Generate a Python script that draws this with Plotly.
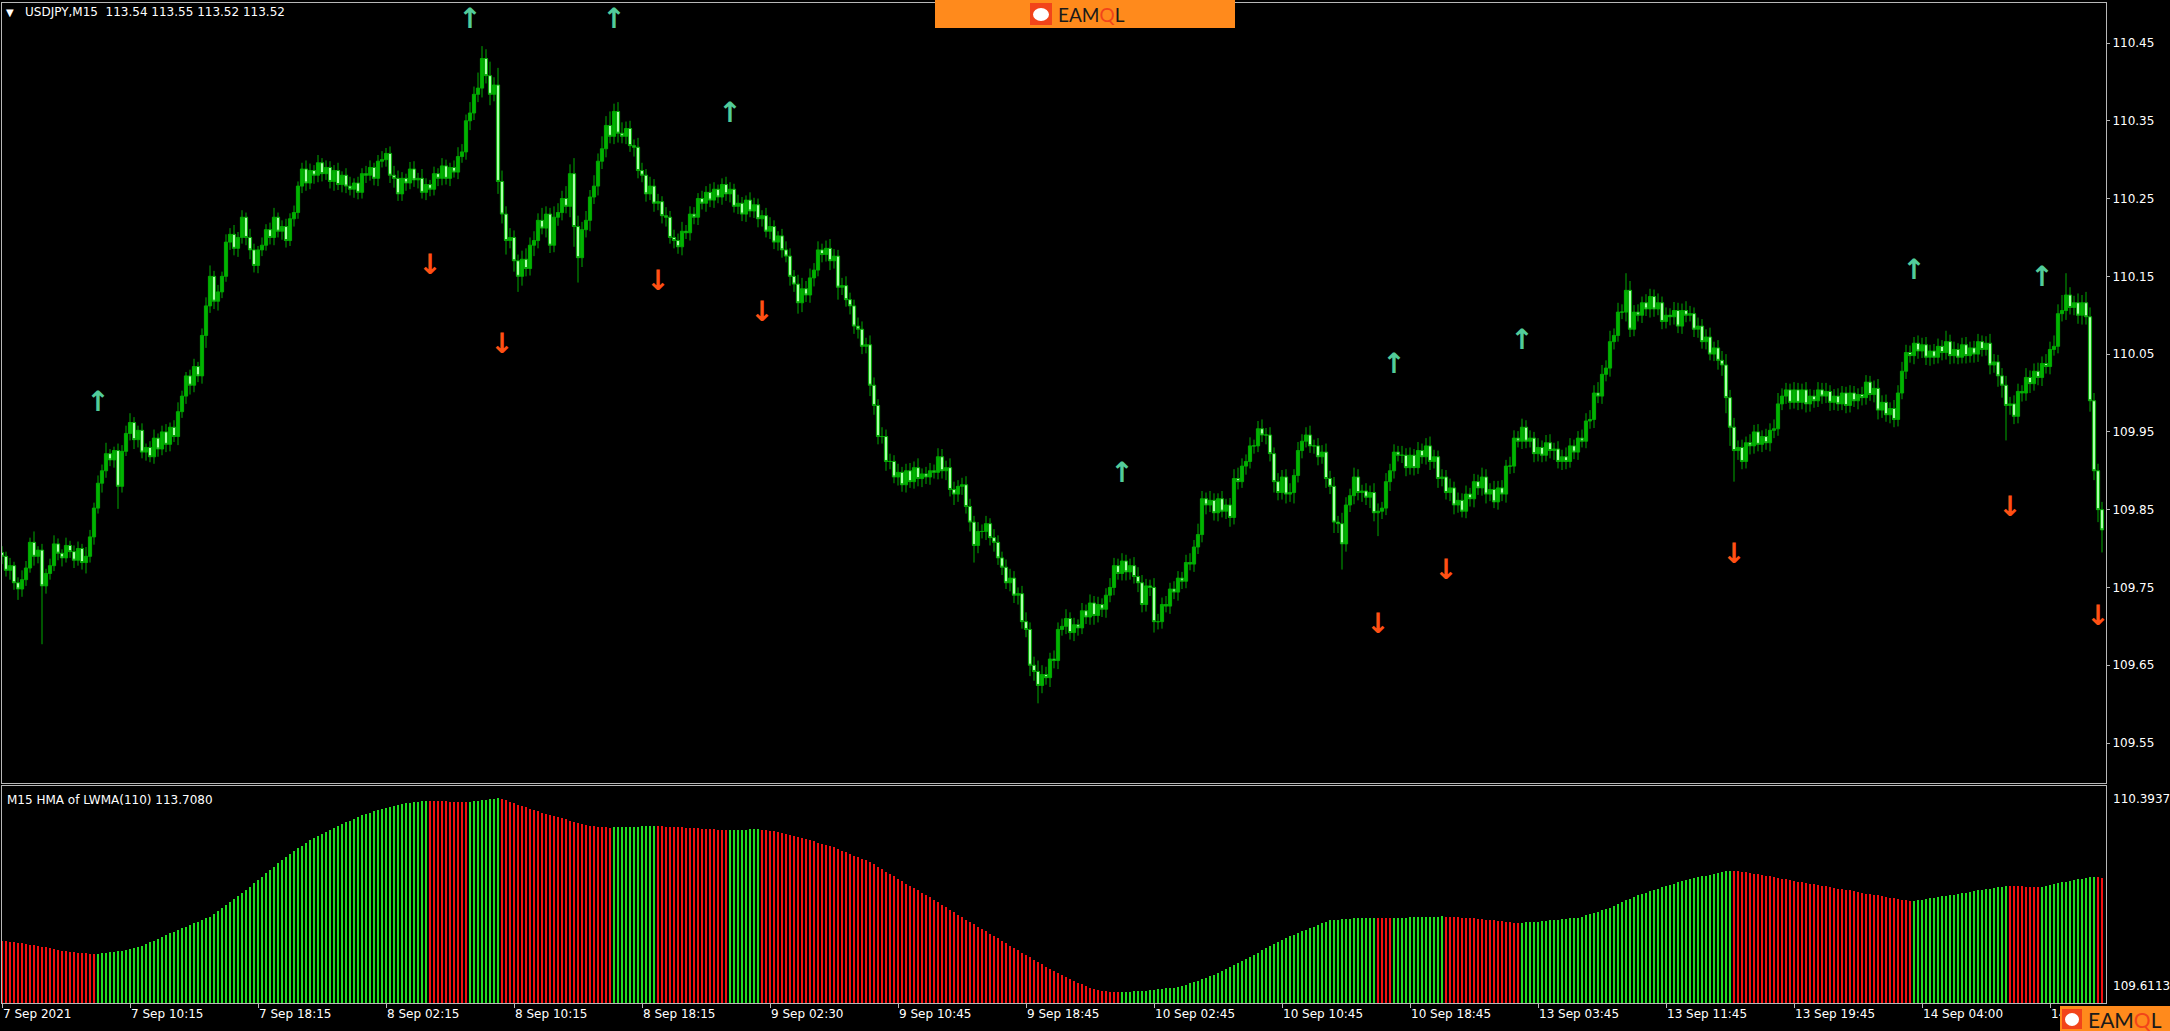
import plotly.graph_objects as go

# ---------------- data (prices in thousandths above 109.000) ----------------
open_first_k = 795
close_k = [
 790,772,778,756,748,760,775,808,790,798,752,768,778,806,794,788,804,796,785,800,
 782,790,815,852,884,900,922,914,926,880,925,948,962,940,952,924,930,918,942,928,
 950,934,956,944,976,996,1022,1010,1034,1022,1074,1112,1150,1118,1130,1150,1194,1204,1186,1200,
 1226,1200,1184,1164,1184,1190,1210,1200,1226,1208,1214,1196,1224,1232,1266,1288,1270,1286,1280,1296,
 1282,1290,1272,1286,1268,1280,1266,1262,1270,1258,1282,1280,1290,1276,1298,1300,1308,1280,1276,1256,
 1276,1270,1288,1274,1276,1258,1268,1262,1282,1276,1292,1276,1290,1284,1304,1310,1350,1360,1384,1392,
 1430,1408,1384,1396,1272,1230,1196,1200,1170,1150,1172,1160,1190,1196,1222,1212,1230,1190,1226,1232,
 1250,1240,1282,1214,1174,1210,1222,1252,1266,1298,1314,1344,1330,1362,1334,1330,1340,1318,1316,1286,
 1280,1256,1266,1244,1246,1228,1226,1200,1196,1188,1208,1206,1230,1226,1250,1244,1258,1248,1262,1252,
 1268,1256,1262,1240,1244,1230,1248,1234,1242,1224,1228,1208,1214,1194,1202,1184,1176,1150,1140,1116,
 1134,1126,1148,1158,1184,1178,1186,1170,1176,1136,1138,1120,1112,1086,1082,1060,1062,1010,984,944,
 944,912,912,892,898,882,900,886,904,890,896,892,900,898,918,900,904,876,870,880,
 882,854,834,804,822,822,832,814,808,788,776,756,762,740,742,706,696,650,642,624,
 638,634,658,656,696,700,710,692,702,698,720,712,730,714,728,722,740,750,778,768,
 784,770,778,764,756,728,752,750,706,706,728,726,748,744,762,758,782,780,802,818,
 864,856,862,846,864,848,856,840,890,886,906,912,932,932,954,946,946,922,886,872,
 892,870,872,894,926,938,946,932,932,918,924,890,880,834,832,806,856,868,892,872,
 874,866,872,846,848,852,886,900,924,920,920,904,920,904,926,918,932,912,918,890,
 892,872,878,856,862,848,870,864,886,878,892,870,876,860,878,870,906,906,942,938,
 956,938,942,922,930,920,936,926,928,912,918,912,932,924,942,938,964,966,1000,996,
 1024,1032,1066,1074,1104,1104,1132,1082,1104,1100,1116,1108,1124,1108,1116,1092,1100,1098,1106,1086,
 1106,1100,1102,1082,1086,1066,1072,1050,1058,1042,1036,994,956,926,930,912,936,932,950,934,
 944,936,952,954,986,996,1004,988,1004,988,1004,986,996,990,1004,996,1002,988,996,986,
 1000,984,1000,990,998,994,1014,998,1006,978,988,972,980,966,1000,1028,1052,1048,1064,1054,
 1062,1046,1054,1046,1060,1052,1066,1048,1056,1046,1062,1048,1058,1050,1066,1056,1064,1036,1040,1022,
 1010,984,986,970,1002,1000,1020,1012,1028,1020,1038,1034,1056,1060,1102,1106,1126,1110,1116,1100,
 1116,1098,990,900,850,824,
]
hi_ext_k = [
 8,6,10,5,7,12,9,6,14,5,8,6,9,11,7,5,10,6,8,9,
 6,12,9,7,10,8,14,6,5,9,8,10,12,7,6,9,5,8,11,6,
 8,10,6,9,12,7,5,8,10,6,9,11,14,7,9,6,10,8,12,7,
 9,6,11,8,5,10,7,9,12,6,8,10,7,9,6,8,11,9,7,10,
 6,9,8,7,10,5,9,12,6,8,7,10,9,6,8,11,7,9,12,10,
 8,6,9,10,7,12,8,6,9,7,10,8,6,9,12,10,8,14,10,20,
 16,12,18,10,22,14,10,12,9,8,11,14,10,12,9,16,10,8,14,12,
 10,16,12,20,14,10,12,9,14,10,16,12,18,10,12,14,9,10,8,12,
 10,8,12,9,10,7,11,8,10,9,12,8,10,9,7,10,8,11,9,6,
 8,10,9,7,11,8,6,10,9,8,7,10,12,8,6,9,11,10,8,12,
 14,10,12,9,11,8,10,12,9,8,10,12,9,8,11,10,9,12,10,8,
 12,9,10,8,11,7,9,10,8,12,7,9,10,8,11,10,9,12,10,8,
 9,11,10,8,12,9,10,7,11,9,8,10,12,9,8,10,12,9,11,14,
 12,10,8,11,9,10,12,8,9,7,10,8,11,9,10,8,9,12,10,9,
 10,8,9,11,12,10,9,8,12,10,9,11,8,10,9,8,10,12,9,14,
 10,8,12,9,7,10,8,9,12,14,10,9,11,8,10,12,9,10,8,11,
 9,10,12,8,11,9,10,12,8,10,9,11,10,12,8,14,10,9,12,10,
 8,10,9,12,10,8,11,9,10,8,12,9,10,8,11,9,10,12,9,8,
 10,9,12,8,10,9,11,8,10,9,12,10,8,11,9,10,8,12,10,9,
 11,9,10,8,12,9,10,11,8,10,9,12,10,8,9,11,10,12,10,14,
 12,10,14,9,12,10,22,12,9,10,8,11,10,9,12,8,10,9,11,10,
 9,12,10,8,11,9,10,12,8,10,12,14,10,12,9,10,8,11,9,10,
 8,10,9,12,14,10,9,8,10,9,8,10,9,8,10,9,11,8,9,10,
 9,8,10,9,8,10,9,8,10,12,9,10,8,11,10,12,10,9,8,10,
 9,10,8,9,10,8,14,9,10,8,9,10,8,9,10,8,9,12,10,9,
 10,12,9,11,10,8,12,9,10,11,9,12,10,14,12,20,28,10,9,12,
 10,14,12,10,9,10,
]
lo_ext_k = [
 10,8,12,9,14,10,8,6,12,9,75,10,8,7,9,11,6,8,10,7,
 9,14,8,10,7,12,9,8,10,29,8,6,9,12,10,8,11,7,9,10,
 8,10,9,7,11,8,10,12,9,8,10,16,9,10,12,8,7,10,9,11,
 8,10,12,9,10,8,7,9,10,8,11,9,7,10,8,9,10,8,11,9,
 10,8,9,12,7,10,9,8,11,9,8,10,7,9,10,8,9,10,12,9,
 9,10,8,9,11,8,10,9,8,10,9,8,10,7,9,8,10,12,9,10,
 12,10,14,9,16,12,18,10,14,20,12,10,9,14,10,8,12,10,9,11,
 10,9,14,26,32,12,10,14,9,12,10,11,9,10,12,9,10,8,12,10,
 9,10,8,11,9,10,12,8,10,9,11,8,10,9,10,8,11,9,10,8,
 10,9,11,8,10,9,10,8,9,11,10,8,10,9,11,10,8,12,10,14,
 12,9,10,11,8,10,9,12,10,16,10,9,11,10,12,10,9,14,12,10,
 9,12,10,8,11,9,10,8,9,10,11,9,10,8,9,10,12,9,14,10,
 11,9,12,22,10,9,11,10,12,9,10,8,11,10,12,9,10,14,12,23,
 10,9,12,10,11,8,10,9,11,10,8,9,10,12,9,10,11,9,10,8,
 9,11,10,9,12,10,9,11,14,10,9,8,10,9,11,10,9,8,10,9,
 10,12,9,10,11,8,10,12,9,10,8,11,9,10,8,9,12,10,14,10,
 9,12,10,14,9,10,8,9,10,11,9,12,10,14,12,33,10,9,11,10,
 12,10,14,11,30,10,9,12,10,8,10,11,9,10,8,9,10,11,9,12,
 10,9,11,12,10,8,9,10,11,9,10,12,9,8,10,9,11,10,9,8,
 10,9,8,11,10,9,8,10,12,9,11,10,8,9,10,8,9,10,11,9,
 10,9,11,10,8,9,12,10,9,8,10,9,11,10,8,10,9,11,10,9,
 10,9,8,10,11,9,10,8,9,12,14,20,24,40,12,10,9,11,10,9,
 10,9,11,10,9,8,10,9,8,10,9,11,10,9,8,10,9,11,10,9,
 8,10,9,8,11,10,9,8,10,12,10,9,11,10,9,8,10,9,11,10,
 9,10,11,9,8,10,9,11,10,9,8,10,9,11,10,9,8,12,10,14,
 16,45,12,10,9,11,10,12,9,10,11,9,10,8,9,10,12,9,10,11,
 12,10,14,12,16,29,
]
# HMA of LWMA(110) histogram values (thousandths above 109.000)
hma_k = [
 836,834,832,830,828,826,824,822,820,818,815,812,809,806,803,800,798,796,794,793,791,790,789,788,
 789,790,792,794,796,798,800,803,805,808,
 812,818,824,830,836,842,848,855,863,
 869,875,881,887,893,899,905,911,916,922,
 932,943,954,965,976,987,998,1009,1020,1031,
 1043,1055,1067,1079,1091,1103,1115,1127,1139,
 1149,1159,1169,1179,1189,1198,1207,1215,1222,1229,
 1236,1243,1250,1257,1263,1269,1275,1282,1289,
 1294,1298,1302,1306,1310,1314,1318,1321,1325,1329,
 1331,1333,1335,1337,1339,1341,
 1340,1339,1339,1338,1338,1337,1337,1336,1336,1336,
 1337,1338,1340,1342,1344,1346,1347,1349,
 1346,1342,1337,1332,1327,1322,1317,1312,1307,
 1302,1298,1294,1290,1286,1282,1277,1273,1269,1265,
 1261,1257,1254,1251,1248,1247,1246,1245,1244,
 1245,1245,1246,1246,1247,1247,1247,1248,1248,1248,1249,
 1248,1248,1247,1247,1246,1246,1245,1244,1243,1242,1241,1240,1239,1238,1237,1236,1235,1234,
 1235,1235,1236,1236,1236,1237,1237,1237,
 1236,1235,1233,1231,1228,1225,1222,1218,1214,1210,1206,1202,1198,1194,1190,1186,1182,1178,
 1172,1166,1160,1154,1148,1142,1136,1132,1128,
 1120,1112,1103,1094,1085,1077,1068,1059,
 1051,1042,1034,1026,1017,1009,1000,992,984,
 975,966,957,948,939,930,921,912,904,
 895,887,878,870,861,852,844,
 835,827,818,810,801,792,784,
 776,767,759,751,742,734,
 727,720,713,706,699,692,685,
 679,673,667,661,657,654,
 653,652,651,650,
 650,651,652,653,654,655,656,657,659,660,662,664,666,667,669,
 673,677,682,687,692,697,703,708,714,719,
 726,733,740,748,755,763,770,778,786,793,801,809,816,824,
 831,838,845,852,858,864,870,876,882,887,893,898,904,909,
 911,912,913,914,915,916,917,917,918,918,919,
 918,918,917,917,
 918,918,919,919,920,920,921,921,922,922,923,923,924,
 923,922,921,920,919,918,917,916,914,913,912,910,909,907,906,904,903,901,900,
 901,902,903,904,905,906,908,909,910,912,913,914,916,917,919,
 923,927,931,936,940,945,949,
 955,962,968,975,981,988,994,
 999,1004,1009,1014,1019,1024,1029,
 1033,1038,1042,1046,1051,1055,1059,
 1062,1065,1068,1071,1074,1077,1079,
 1083,1086,1089,
 1088,1086,1084,1082,1080,1078,1075,1073,1070,1068,1065,1063,1060,1057,1055,1052,1049,
 1047,1044,1042,1039,1037,1034,1032,1029,1027,1024,1022,1019,1017,1014,
 1011,1009,1006,1004,1001,999,996,994,991,989,986,984,981,979,
 980,982,984,986,989,991,993,996,998,1000,1002,1005,1007,1009,
 1012,1014,1017,1019,1022,1024,1027,1029,1031,1034,
 1033,1033,1032,1032,1031,1031,1030,1030,
 1031,1034,1037,1040,1043,1046,1049,1052,1055,1058,1060,1062,1064,1065,
 1064,1063,
]
# histogram colour segments (bar index where a trend starts, 1 = rising/green)
trend_start = [0, 24, 107, 117, 125, 153, 164, 182, 190, 280, 344, 348, 361, 380, 433, 478, 502, 510, 524]
trend_up    = [0, 1, 0, 1, 0, 1, 0, 1, 0, 1, 0, 1, 0, 1, 0, 1, 0, 1, 0]

# signal arrows (bar index, price)
up_bar = [24, 117, 153, 182, 280, 348, 380, 478, 510]
up_price = [109.986, 110.478, 110.478, 110.357, 109.895, 110.035, 110.066, 110.156, 110.146]
dn_bar = [107, 125, 164, 190, 344, 361, 433, 502, 524]
dn_price = [110.162, 110.061, 110.141, 110.101, 109.700, 109.770, 109.790, 109.851, 109.711]

price_ticks = [109.55, 109.65, 109.75, 109.85, 109.95, 110.05, 110.15, 110.25, 110.35, 110.45]
time_tick_bars = [0, 32, 64, 96, 128, 160, 192, 224, 256, 288, 320, 352, 384, 416, 448, 480, 512]
time_tick_labels = ["7 Sep 2021", "7 Sep 10:15", "7 Sep 18:15", "8 Sep 02:15", "8 Sep 10:15",
                    "8 Sep 18:15", "9 Sep 02:30", "9 Sep 10:45", "9 Sep 18:45", "10 Sep 02:45",
                    "10 Sep 10:45", "10 Sep 18:45", "13 Sep 03:45", "13 Sep 11:45", "13 Sep 19:45",
                    "14 Sep 04:00", "14 Sep 12:00"]
ind_min, ind_max = 109.6113, 110.3937

N = len(close_k)
for name, arr in [("hi", hi_ext_k), ("lo", lo_ext_k), ("hma", hma_k)]:
    if len(arr) != N:
        raise SystemExit(f"length mismatch {name}: {len(arr)} vs {N}")

# ---------------- build ----------------
xs = list(range(N))
close = [109 + c / 1000 for c in close_k]
opn = [109 + open_first_k / 1000] + close[:-1]
high = [max(o, c) + h / 1000 for o, c, h in zip(opn, close, hi_ext_k)]
low = [min(o, c) - l / 1000 for o, c, l in zip(opn, close, lo_ext_k)]
hma = [109 + v / 1000 for v in hma_k]

bar_colors = []
seg = 0
for i in range(N):
    while seg + 1 < len(trend_start) and i >= trend_start[seg + 1]:
        seg += 1
    bar_colors.append("#22dd22" if trend_up[seg] else "#f21010")

FONT = "DejaVu Sans"
GRAY = "#b8b8b8"
W, H = 2170, 1031
ML, MR, MT, MB = 2, 64, 3, 28
PW, PH = W - ML - MR, H - MT - MB

def px(x):  # page pixel -> paper x
    return (x - ML) / PW

def py(y):  # page pixel -> paper y
    return (H - MB - y) / PH

fig = go.Figure()
fig.add_trace(go.Candlestick(
    x=xs, open=opn, high=high, low=low, close=close,
    xaxis="x", yaxis="y",
    increasing=dict(line=dict(color="#00aa00", width=1), fillcolor="#00b400"),
    decreasing=dict(line=dict(color="#00aa00", width=1), fillcolor="#aaffaa"),
    whiskerwidth=0, hoverinfo="skip", showlegend=False,
))
fig.add_trace(go.Scatter(
    x=up_bar, y=up_price, mode="text", text=["↑"] * len(up_bar),
    textfont=dict(family=FONT, size=28, color="#52cc9a", weight="bold"),
    xaxis="x", yaxis="y", hoverinfo="skip", showlegend=False,
))
fig.add_trace(go.Scatter(
    x=dn_bar, y=dn_price, mode="text", text=["↓"] * len(dn_bar),
    textfont=dict(family=FONT, size=28, color="#ff5014", weight="bold"),
    xaxis="x", yaxis="y", hoverinfo="skip", showlegend=False,
))
fig.add_trace(go.Bar(
    x=xs, y=[v - ind_min for v in hma], base=ind_min, width=0.62,
    marker=dict(color=bar_colors, line=dict(width=0)),
    xaxis="x2", yaxis="y2", hoverinfo="skip", showlegend=False,
))

main_bottom = 783
ind_top = 786
fig.update_layout(
    width=W, height=H,
    margin=dict(l=ML, r=MR, t=MT, b=MB, pad=0),
    paper_bgcolor="black", plot_bgcolor="black",
    font=dict(family=FONT, size=12, color="white"),
    showlegend=False, hovermode=False, bargap=0,
    boxgap=0.2, boxgroupgap=0,
    xaxis=dict(domain=[0, 1], anchor="y", range=[0, N], matches="x2",
               showticklabels=False, ticks="", showgrid=False, zeroline=False,
               showline=True, mirror=True, linecolor=GRAY, linewidth=1,
               rangeslider=dict(visible=False)),
    yaxis=dict(domain=[py(main_bottom), 1], anchor="x", side="right",
               range=[109.55 - (main_bottom - 743) / 777.8, 110.45 + (43 - MT) / 777.8],
               tickvals=price_ticks, ticktext=[f"{t:.2f}" for t in price_ticks],
               ticks="outside", ticklen=3, tickcolor=GRAY,
               tickfont=dict(family=FONT, size=12, color="white"),
               showgrid=False, zeroline=False,
               showline=True, mirror=True, linecolor=GRAY, linewidth=1),
    xaxis2=dict(domain=[0, 1], anchor="y2", range=[0, N],
                tickvals=time_tick_bars, ticktext=time_tick_labels,
                ticks="outside", ticklen=4, tickcolor=GRAY,
                ticklabelposition="outside right",
                tickfont=dict(family=FONT, size=12, color="white"),
                showgrid=False, zeroline=False,
                showline=True, mirror=True, linecolor=GRAY, linewidth=1),
    yaxis2=dict(domain=[0, py(ind_top)], anchor="x2", side="right",
                range=[ind_min, ind_max], showticklabels=False, ticks="",
                showgrid=False, zeroline=False,
                showline=True, mirror=True, linecolor=GRAY, linewidth=1),
)

ann = []
ann.append(dict(xref="paper", yref="paper", x=px(4), y=py(12), xanchor="left", yanchor="middle",
                text="▼", showarrow=False, font=dict(family=FONT, size=10, color="white")))
ann.append(dict(xref="paper", yref="paper", x=px(23), y=py(12), xanchor="left", yanchor="middle",
                text="USDJPY,M15\u00a0\u00a0113.54 113.55 113.52 113.52", showarrow=False,
                font=dict(family=FONT, size=12, color="white")))
ann.append(dict(xref="paper", yref="paper", x=px(5), y=py(800), xanchor="left", yanchor="middle",
                text="M15 HMA of LWMA(110) 113.7080", showarrow=False,
                font=dict(family=FONT, size=12, color="white")))
ann.append(dict(xref="paper", yref="y2", x=px(2111), y=ind_max, xanchor="left", yanchor="top",
                yshift=-4, text=f"{ind_max:.4f}", showarrow=False,
                font=dict(family=FONT, size=12, color="white")))
ann.append(dict(xref="paper", yref="y2", x=px(2111), y=ind_min, xanchor="left", yanchor="bottom",
                yshift=8, text=f"{ind_min:.4f}", showarrow=False,
                font=dict(family=FONT, size=12, color="white")))

shapes = []
ORANGE = "#ff8a1c"
# top logo
shapes.append(dict(type="rect", xref="paper", yref="paper", x0=px(935), x1=px(1235), y0=py(28), y1=py(0),
                   fillcolor=ORANGE, line=dict(width=0), layer="above"))
shapes.append(dict(type="rect", xref="paper", yref="paper", x0=px(1030), x1=px(1052), y0=py(25), y1=py(3),
                   fillcolor="#f2441a", line=dict(width=0), layer="above"))
shapes.append(dict(type="circle", xref="paper", yref="paper", x0=px(1033), x1=px(1049), y0=py(21), y1=py(8),
                   fillcolor="white", line=dict(width=0), layer="above"))
ann.append(dict(xref="paper", yref="paper", x=px(1056), y=py(14), xanchor="left", yanchor="middle",
                text="EAM<span style='color:#f2441a'>Q</span>L", showarrow=False,
                font=dict(family="Lato", size=19, color="#1a1a1a")))
# bottom-right logo
shapes.append(dict(type="rect", xref="paper", yref="paper", x0=px(2060), x1=px(2172), y0=py(1033), y1=py(1006),
                   fillcolor=ORANGE, line=dict(width=0), layer="above"))
shapes.append(dict(type="rect", xref="paper", yref="paper", x0=px(2062), x1=px(2082), y0=py(1029), y1=py(1009),
                   fillcolor="#f2441a", line=dict(width=0), layer="above"))
shapes.append(dict(type="circle", xref="paper", yref="paper", x0=px(2065), x1=px(2079), y0=py(1026), y1=py(1013),
                   fillcolor="white", line=dict(width=0), layer="above"))
ann.append(dict(xref="paper", yref="paper", x=px(2086), y=py(1019), xanchor="left", yanchor="middle",
                text="EAM<span style='color:#f2441a'>Q</span>L", showarrow=False,
                font=dict(family="Lato", size=21, color="#1a1a1a")))

fig.update_layout(annotations=ann, shapes=shapes)
fig.write_html("out.html", config={"displayModeBar": False},
               post_script="document.body.style.margin='0';document.body.style.overflow='hidden';")
